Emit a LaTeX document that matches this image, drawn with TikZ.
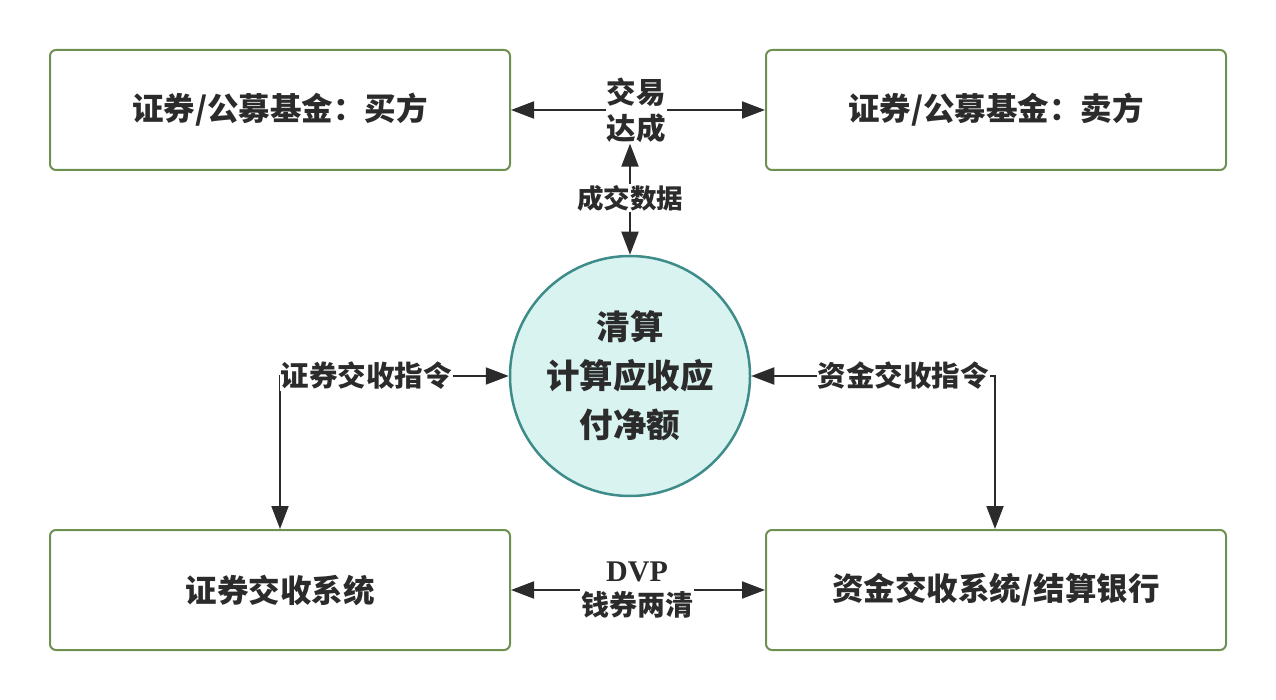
\documentclass[tikz,border=0pt]{standalone}
\usepackage{fontspec}
\usetikzlibrary{arrows.meta,shapes.geometric}
\newfontfamily\cjk{Noto Sans CJK SC}
\newfontfamily\latserif{Liberation Serif}
\definecolor{boxgreen}{HTML}{6E9152}
\definecolor{circfill}{HTML}{D9F3F1}
\definecolor{circline}{HTML}{3D8C89}
\definecolor{ink}{HTML}{2B2B2B}
\tikzset{
  box/.style={draw=boxgreen, line width=2pt, rounded corners=6pt, minimum width=460pt, minimum height=120pt, fill=white, text=ink, font=\cjk\bfseries\fontsize{31.5}{36}\selectfont},
  circ/.style={circle, draw=circline, line width=2.5pt, fill=circfill, minimum size=240pt, text=ink, align=center, font=\cjk\bfseries\fontsize{33.5}{49}\selectfont},
  lbl/.style={fill=white, inner sep=1pt, text=ink, align=center, font=\cjk\bfseries\fontsize{28}{34}\selectfont},
  conn/.style={draw=ink, line width=2pt, {Triangle[length=23pt,width=17pt]}-{Triangle[length=23pt,width=17pt]}}
}
\begin{document}
\begin{tikzpicture}[x=1pt,y=-1pt]
\useasboundingbox (0,0) rectangle (1276,700);
\node[box] (buy) at (280,110) {证券/公募基金：买方};
\node[box] (sell) at (996,110) {证券/公募基金：卖方};
\node[box] (sec) at (280,590) {证券交收系统};
\node[box] (fund) at (996,590) {资金交收系统/结算银行};
\node[circ] (clr) at (630,376) {清算\\计算应收应\\付净额};
% top
\draw[conn] (buy.east) -- (sell.west);
\node[lbl, font=\cjk\bfseries\fontsize{29.5}{36}\selectfont] (deal) at (636,110) {交易\\达成};
\draw[conn] (clr.north) -- (clr.north |- deal.south);
\node[lbl, font=\cjk\bfseries\fontsize{26.5}{30}\selectfont] (data) at (630,198) {成交数据};
% left
\coordinate (lc) at (280,376);
\draw[conn] (sec.north) -- (lc) -- (clr.west);
\node[lbl, font=\cjk\bfseries\fontsize{28.5}{30}\selectfont] (secins) at (366,376) {证券交收指令};
% right
\coordinate (rc) at (995,376);
\draw[conn] (clr.east) -- (rc) -- (rc |- fund.north);
\node[lbl, font=\cjk\bfseries\fontsize{28.5}{30}\selectfont] (fundins) at (903,376) {资金交收指令};
% bottom
\draw[conn] (sec.east) -- (fund.west);
\node[lbl] (dvp) at (637,590) {{\latserif\bfseries\fontsize{30}{34}\selectfont DVP}\\钱券两清};
\end{tikzpicture}
\end{document}
